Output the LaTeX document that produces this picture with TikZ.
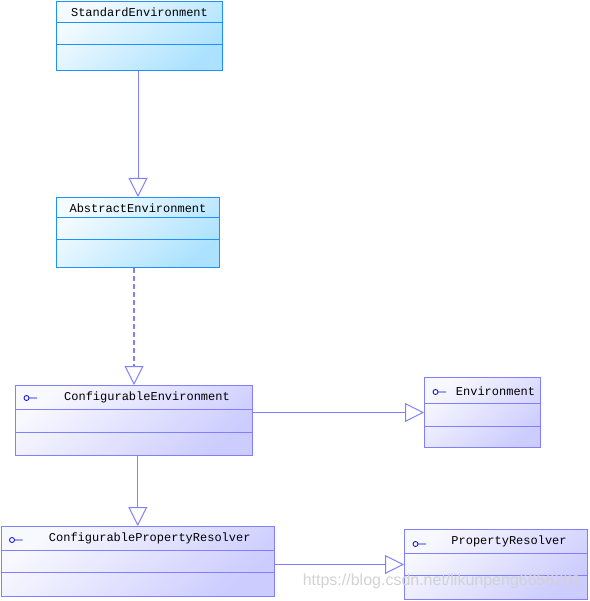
\documentclass[tikz,border=0pt]{standalone}
\usepackage{fontspec}
\setmonofont{Liberation Mono}
\newfontfamily\markfont{Liberation Sans}
\usepackage{tikz}
\usetikzlibrary{positioning, arrows.meta, calc}

\definecolor{ClassBlue}{RGB}{30,144,255}
\definecolor{ClassCyan}{RGB}{172,226,255}
\definecolor{ClassPale}{RGB}{244,251,255}
\definecolor{IfaceBorder}{RGB}{128,128,255}
\definecolor{IfaceLilac}{RGB}{204,204,255}
\definecolor{IfacePale}{RGB}{248,248,255}
\definecolor{IconBlue}{RGB}{0,0,220}

\tikzset{
  cyanclass/.style={draw=ClassBlue, line width=1pt, inner sep=0pt, anchor=north west,
    top color=ClassPale, bottom color=ClassCyan, shading angle=40},
  lavclass/.style={draw=IfaceBorder, line width=1pt, inner sep=0pt, anchor=north west,
    top color=IfacePale, bottom color=IfaceLilac, shading angle=40},
  classname/.style={inner sep=0pt, font=\ttfamily\fontsize{12}{14}\selectfont},
  gen/.style={draw=IfaceBorder, line width=1pt, -{Triangle[open, length=19pt, width=19pt]}},
  realize/.style={draw=IfaceBorder, line width=2.5pt, dash pattern=on 5pt off 3pt,
    -{Triangle[open, length=19pt, width=19pt, line width=1pt]}},
  watermark/.style={inner sep=0pt, text=gray!35, font=\markfont\fontsize{16}{18}\selectfont}
}

\begin{document}
\begin{tikzpicture}[x=1pt,y=-1pt]
  \useasboundingbox (0,0) rectangle (589,601);

  % class boxes
  \node[cyanclass, minimum width=166pt, minimum height=69pt] (stdEnv) at (56,1) {};
  \node[cyanclass, minimum width=163pt, minimum height=70pt] (absEnv) at (56,197) {};
  \node[lavclass, minimum width=237pt, minimum height=70pt] (confEnv) at (15,385) {};
  \node[lavclass, minimum width=116pt, minimum height=70pt] (env) at (424,377) {};
  \node[lavclass, minimum width=273.5pt, minimum height=70pt] (confPR) at (0.5,526) {};
  \node[lavclass, minimum width=183pt, minimum height=70pt] (propRes) at (404,529) {};

  \foreach \c/\a/\b/\col in {stdEnv/22/44/ClassBlue, absEnv/21/43/ClassBlue,
    confEnv/24/47/IfaceBorder, env/26/49/IfaceBorder,
    confPR/24/46/IfaceBorder, propRes/24/46/IfaceBorder}
  {
    \draw[\col, line width=1pt] ($(\c.north west)+(0,\a)$) -- ($(\c.north east)+(0,\a)$);
    \draw[\col, line width=1pt] ($(\c.north west)+(0,\b)$) -- ($(\c.north east)+(0,\b)$);
  }

  % interface marks
  \foreach \c/\h in {confEnv/13, env/15, confPR/14, propRes/15}
  {
    \draw[IconBlue, line width=0.8pt] ($(\c.north west)+(11.5,\h)$) circle (2.5pt)
      ++(2.5,0) -- ++(8,0);
  }

  \node[classname] (stdEnv-name) at ($(stdEnv.north)+(0,11)$) {StandardEnvironment};
  \node[classname] (absEnv-name) at ($(absEnv.north)+(0,11)$) {AbstractEnvironment};
  \node[classname, xshift=13pt] (confEnv-name) at ($(confEnv.north)+(0,12)$) {ConfigurableEnvironment};
  \node[classname, xshift=13pt] (env-name) at ($(env.north)+(0,14)$) {Environment};
  \node[classname, xshift=12pt] (confPR-name) at ($(confPR.north)+(0,12)$) {ConfigurablePropertyResolver};
  \node[classname, xshift=13pt] (propRes-name) at ($(propRes.north)+(0,12)$) {PropertyResolver};

  % relations
  \draw[gen] (absEnv.north |- stdEnv.south) -- (absEnv.north);
  \draw[realize] (confEnv.north |- absEnv.south) -- (confEnv.north);
  \draw[gen] (confPR.north |- confEnv.south) -- (confPR.north);
  \draw[gen] (confEnv.east |- env.west) -- (env.west);
  \draw[gen] (confPR.east |- propRes.west) -- (propRes.west);

  \node[watermark] (csdn) at (442,581) {https://blog.csdn.net/likunpeng6656201};
\end{tikzpicture}
\end{document}
